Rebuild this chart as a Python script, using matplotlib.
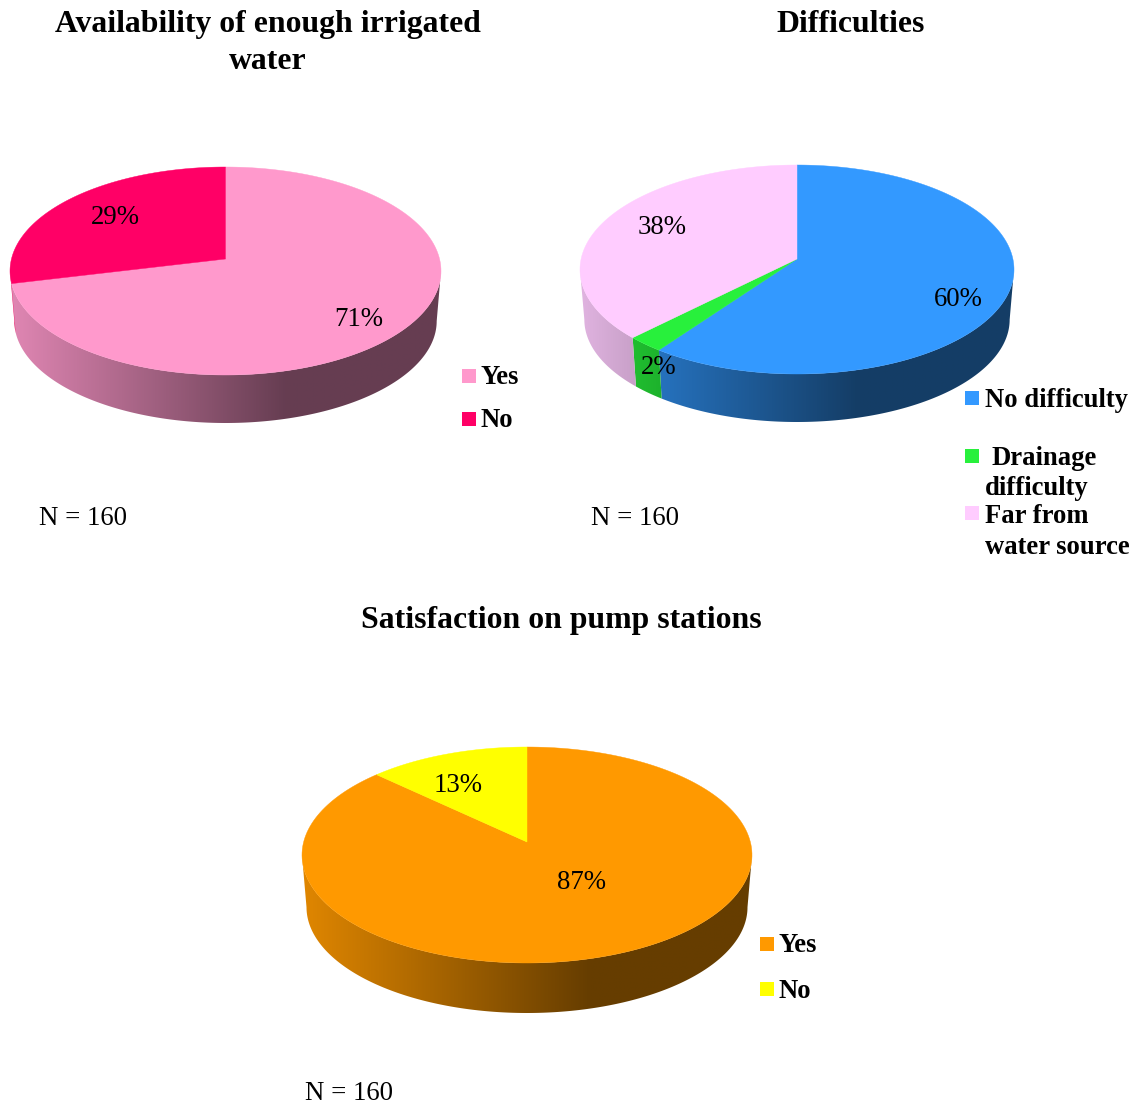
import numpy as np
import matplotlib
matplotlib.use("Agg")
import matplotlib.pyplot as plt
from matplotlib.patches import Rectangle, Polygon

# ---- data ----
water_labels = ["Yes", "No"]
water_values = [71.25, 28.75]
water_colors = ["#FF99CC", "#FF0066"]

difficulty_labels = ["No difficulty", "Drainage difficulty", "Far from water source"]
difficulty_values = [60, 2.5, 37.5]
difficulty_colors = ["#3399FF", "#28F03C", "#FFCCFF"]

pump_labels = ["Yes", "No"]
pump_values = [87, 13]
pump_colors = ["#FF9900", "#FFFF00"]

W, H = 1143, 1108
plt.rcParams["font.family"] = ["Liberation Serif", "DejaVu Serif"]
fig = plt.figure(figsize=(W / 100, H / 100), dpi=100, facecolor="white")
ax = fig.add_axes([0, 0, 1, 1])
ax.set_xlim(0, W)
ax.set_ylim(H, 0)
ax.axis("off")


def shade(frac):
    return np.interp(frac, [0.0, 0.64, 1.0], [0.88, 0.40, 0.40])


def pie3d(values, colors, left, right, top, bottom, apex_y, side_bottom):
    """Perspective pie: apex is offset from the ellipse centre."""
    cx = (left + right) / 2
    rx = (right - left) / 2
    rt, rb = apex_y - top, bottom - apex_y
    b = (rb - rt) / (rb + rt)
    a = rt * (1 + b)
    c = rx * np.sqrt(1 - b * b)

    def top_xy(th):
        u, v = np.sin(th), np.cos(th)
        d = 1 + b * v
        return cx + u * c / d, apex_y - v * a / d

    s = 0.98
    dy = side_bottom - (apex_y + s * (bottom - apex_y))

    def bot_xy(th):
        x, y = top_xy(th)
        return cx + s * (x - cx), apex_y + s * (y - apex_y) + dy

    fr = np.cumsum([0] + list(values)) / float(sum(values))
    edges = 2 * np.pi * fr
    ramp = shade(np.linspace(0, 1, 512))
    tangent = np.arccos(-b)  # where the ellipse is widest

    # side wall: a horizontal shading ramp clipped to each slice's wall
    for i, col in enumerate(colors):
        rgb = np.array(matplotlib.colors.to_rgb(col))
        lo = max(edges[i], tangent)
        hi = min(edges[i + 1], 2 * np.pi - tangent)
        if hi <= lo:
            continue
        ts = np.linspace(lo, hi, 200)
        xt, yt = top_xy(ts)
        xb, yb = bot_xy(ts)
        poly = Polygon(np.c_[np.r_[xt, xb[::-1]], np.r_[yt, yb[::-1]]], closed=True,
                       transform=ax.transData, facecolor="none", edgecolor="none")
        ax.add_patch(poly)
        img = ramp[None, :, None] * rgb[None, None, :]
        im = ax.imshow(img, extent=(left, right, side_bottom, top), aspect="auto",
                       interpolation="bilinear", zorder=2)
        im.set_clip_path(poly)

    ax.set_xlim(0, W)
    ax.set_ylim(H, 0)

    # top face
    for i, col in enumerate(colors):
        ts = np.linspace(edges[i], edges[i + 1], 200)
        xs, ys = top_xy(ts)
        ax.fill(np.r_[cx, xs], np.r_[apex_y, ys], facecolor=col, edgecolor=col, lw=0.3, zorder=3)


pie3d(water_values, water_colors, 10, 441, 167, 375, 259, 423)
pie3d(difficulty_values, difficulty_colors, 580, 1014, 165, 374, 259, 422)
pie3d(pump_values, pump_colors, 302, 752, 747, 963, 842, 1013)

PCT = 19.3
LEG = 19.2
TTL = 22.9


def pct(x, y, v):
    ax.text(x, y, f"{v:.0f}%", fontsize=PCT, ha="center", va="baseline", color="black", zorder=5)


for (x, y), v in zip([(359, 326), (115, 224)], water_values):
    pct(x, y, v)
for (x, y), v in zip([(958, 306), (659, 374), (662, 234)], difficulty_values):
    pct(x, y, v)
for (x, y), v in zip([(581, 889), (458, 792)], pump_values):
    pct(x, y, v)

for x, y in [(39, 525), (591, 525), (305, 1100)]:
    ax.text(x, y, "N = 160", fontsize=PCT, ha="left", va="baseline")

ax.text(267.5, 32, "Availability of enough irrigated", fontsize=TTL, fontweight="bold", ha="center", va="baseline")
ax.text(267.5, 69, "water", fontsize=TTL, fontweight="bold", ha="center", va="baseline")
ax.text(850.5, 32, "Difficulties", fontsize=TTL, fontweight="bold", ha="center", va="baseline")
ax.text(561, 628, "Satisfaction on pump stations", fontsize=TTL, fontweight="bold", ha="center", va="baseline")


def key(x, y, col):
    ax.add_patch(Rectangle((x, y), 14, 14, facecolor=col, edgecolor="none", zorder=4))


def leg(x, y, s):
    ax.text(x, y, s, fontsize=LEG, fontweight="bold", ha="left", va="baseline")


key(462, 369, water_colors[0]); leg(480.5, 384, water_labels[0])
key(462, 412, water_colors[1]); leg(480.5, 427, water_labels[1])

key(965, 391, difficulty_colors[0]); leg(985, 407, difficulty_labels[0])
key(965, 449, difficulty_colors[1]); leg(992, 465, "Drainage"); leg(985, 495, "difficulty")
key(965, 506, difficulty_colors[2]); leg(985, 523, "Far from"); leg(985, 554, "water source")

key(760, 937, pump_colors[0]); leg(778.5, 952, pump_labels[0])
key(760, 982, pump_colors[1]); leg(778.5, 998, pump_labels[1])

fig.savefig("out.png", dpi=100, facecolor="white")
